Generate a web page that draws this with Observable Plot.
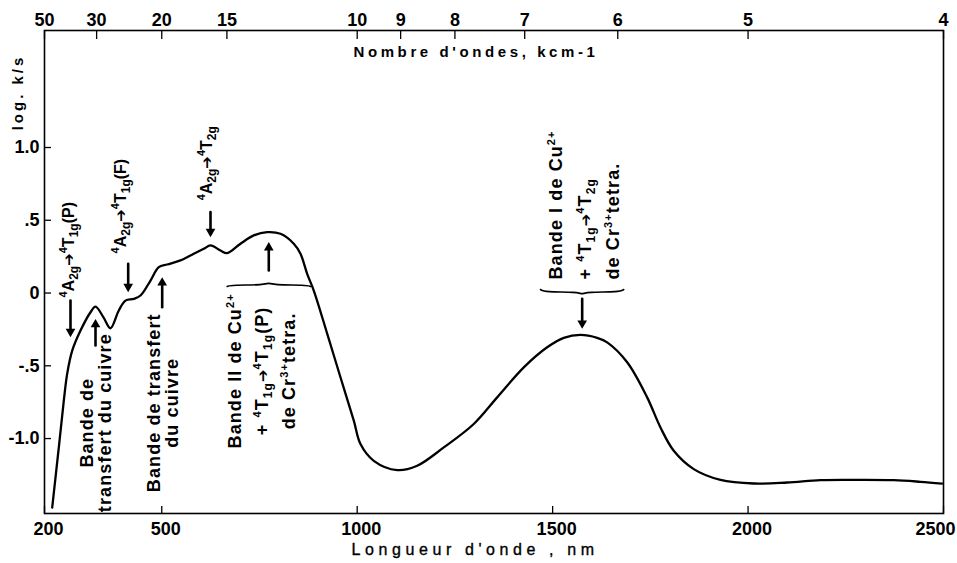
<!DOCTYPE html>
<html><head><meta charset="utf-8">
<script src="https://cdn.jsdelivr.net/npm/d3@7"></script>
<script src="https://cdn.jsdelivr.net/npm/@observablehq/plot@0.6"></script>
<style>html,body{margin:0;padding:0;background:#fff;}</style>
</head><body><div id="chart"></div>
<script>
// Spectrum: wavelength (nm) vs log(k/s)
const wavelength = [219.7, 236.6, 249.4, 258.1, 270.9, 292.1, 317.7, 330.5, 350.9, 368.8, 390.1, 407.2, 428.4, 445.6, 471.2, 492.4, 513.9, 547.9, 581.9, 607.5, 624.7, 650.2, 667.4, 701.4, 735.4, 769.7, 803.7, 837.8, 854.9, 872.0, 888.9, 923.2, 957.2, 991.3, 1008.4, 1042.4, 1102.3, 1153.4, 1221.5, 1298.2, 1358.1, 1426.2, 1486.0, 1528.5, 1571.2, 1613.9, 1639.5, 1690.7, 1741.8, 1775.9, 1809.9, 1861.0, 1929.3, 2014.5, 2100.0, 2185.2, 2270.3, 2372.7, 2441.0, 2496.5];
const logKS = [-1.474, -1.061, -0.740, -0.554, -0.396, -0.258, -0.132, -0.093, -0.167, -0.242, -0.120, -0.052, -0.040, -0.017, 0.086, 0.178, 0.196, 0.224, 0.270, 0.304, 0.327, 0.292, 0.274, 0.339, 0.396, 0.418, 0.407, 0.339, 0.270, 0.132, 0.017, -0.279, -0.579, -0.877, -1.038, -1.153, -1.217, -1.187, -1.061, -0.900, -0.717, -0.511, -0.373, -0.308, -0.288, -0.308, -0.339, -0.476, -0.717, -0.924, -1.084, -1.210, -1.284, -1.309, -1.302, -1.286, -1.284, -1.286, -1.297, -1.309];

// Axes
const xTicks = [200, 500, 1000, 1500, 2000, 2500];
const wavenumbers = [50, 30, 20, 15, 10, 9, 8, 7, 6, 5, 4]; // kcm-1
const yTicks = [1, 0.5, 0, -0.5, -1];
const yTickLabels = ["1.0", ".5", "0", "-.5", "-1.0"];
const xTitle = "Longueur d'onde , nm";
const topTitle = "Nombre d'ondes, kcm-1";
const yTitle = "log. k/s";

// Annotation arrows (x in nm, tail and tip in log k/s)
const arrowX    = [266.5, 330.5, 414.1, 501.1, 624.7, 773.8, 1575.6];
const arrowTail = [-0.052, -0.361, 0.201, -0.098, 0.556, 0.155, -0.040];
const arrowTip  = [-0.304, -0.178, 0.006, 0.109, 0.384, 0.350, -0.246];

// Transition labels anchored at their lower end
const transLabels = ["^{4}A_{2g}➔^{4}T_{1g}(P)", "^{4}A_{2g}➔^{4}T_{1g}(F)", "^{4}A_{2g}➔^{4}T_{2g}"];
const transX = [261.4, 394.4, 614.4];
const transY = [-0.031, 0.272, 0.637];
const bandILabel = "Bande I de Cu^{2+}\n+ ^{4}T_{1g}➔^{4}T_{2g}\nde Cr^{3+}tetra.";
const bandIX = 1573.5, bandIY = 0.093;
// Band labels centred
const midLabels = ["Bande de\ntransfert du cuivre", "Bande de transfert\ndu cuivre", "Bande II de Cu^{2+}\n+ ^{4}T_{1g}➔^{4}T_{1g}(P)\nde Cr^{3+}tetra."];
const midX = [333, 504.4, 749];
const midY = [-0.891, -0.754, -0.535];

// Braces
const braceIIx = [667.4, 678.4, 762.8, 773.8, 784.5, 870.2, 880.5];
const braceIIy = [0.045, 0.055, 0.055, 0.072, 0.055, 0.055, 0.045];
const braceIx  = [1468.9, 1479.1, 1563.5, 1575.6, 1586.6, 1671.0, 1682.0];
const braceIy  = [0.024, 0.007, 0.007, -0.010, 0.007, 0.007, 0.024];

const curve = wavelength.map((x, i) => ({x, y: logKS[i]}));
const arrows = arrowX.map((x, i) => ({x, y1: arrowTail[i], y2: arrowTip[i]}));
const trans = transLabels.map((t, i) => ({t, x: transX[i], y: transY[i]}));
const mids = midLabels.map((t, i) => ({t, x: midX[i], y: midY[i]}));
const braceII = braceIIx.map((x, i) => ({x, y: braceIIy[i]}));
const braceI = braceIx.map((x, i) => ({x, y: braceIy[i]}));

const FONT = "'Liberation Sans', Arial, Helvetica, sans-serif";
const W = 957, H = 563, ML = 44, MR = 14, MT = 30, MB = 50;
const FW = W - ML - MR, FH = H - MT - MB;

const textOpts = (lh, anchor, size) => ({x: "x", y: "y", text: "t", rotate: -90, textAnchor: anchor, lineAnchor: "middle",
  fontSize: size, fontWeight: "bold", fill: "black", lineHeight: lh});

const up = arrows.filter(d => d.y2 > d.y1), down = arrows.filter(d => d.y2 < d.y1);

const marks = [
  Plot.frame({stroke: "black", strokeWidth: 1.6}),
  // inward ticks
  Plot.ruleX(xTicks, {x: d => d, insetTop: FH - 7, stroke: "black", strokeWidth: 1.3}),
  Plot.ruleX(wavenumbers.map(k => 10000 / k), {x: d => d, insetBottom: FH - 9, stroke: "black", strokeWidth: 1.3}),
  Plot.ruleY(yTicks, {y: d => d, insetRight: FW - 7, stroke: "black", strokeWidth: 1.3}),
  Plot.axisX({anchor: "bottom", ticks: xTicks, tickSize: 0, tickPadding: 9, dx: 4, tickFormat: d => String(d),
    fontSize: 18, fontWeight: "bold", label: null}),
  Plot.axisX({anchor: "top", ticks: wavenumbers.map(k => 10000 / k), tickSize: 0, tickPadding: 5,
    tickFormat: d => String(Math.round(10000 / d)), fontSize: 18, fontWeight: "bold", label: null}),
  Plot.axisY({anchor: "left", ticks: yTicks, tickSize: 0, tickPadding: 5,
    tickFormat: d => yTickLabels[yTicks.indexOf(d)], fontSize: 18, fontWeight: "bold", label: null}),
  Plot.line(curve, {x: "x", y: "y", curve: "catmull-rom", stroke: "black", strokeWidth: 2.3}),
  Plot.arrow(arrows, {x: "x", y1: "y1", y2: "y2", stroke: "black", strokeWidth: 2.6, headLength: 0, insetEnd: 6}),
  Plot.dot(up, {x: "x", y: "y2", symbol: "triangle", r: 3.6, fill: "black", stroke: "none", dy: 5.6}),
  Plot.dot(down, {x: "x", y: "y2", symbol: "triangle", r: 3.6, fill: "black", stroke: "none", rotate: 180, dy: -5.6}),
  Plot.line(braceII, {x: "x", y: "y", curve: "basis", stroke: "black", strokeWidth: 1.6}),
  Plot.line(braceI, {x: "x", y: "y", curve: "basis", stroke: "black", strokeWidth: 1.6}),
  Plot.text(trans, textOpts(1, "start", 16)),
  Plot.text([{t: bandILabel, x: bandIX, y: bandIY}], textOpts(1.6, "start", 18)),
  Plot.text(mids.slice(0, 1), textOpts(1.0, "middle", 18)),
  Plot.text(mids.slice(1, 2), textOpts(0.95, "middle", 18)),
  Plot.text(mids.slice(2), textOpts(1.5, "middle", 18)),
  Plot.text([topTitle], {frameAnchor: "top", dx: -18, dy: 22, text: d => d, textAnchor: "middle", lineAnchor: "middle", fontSize: 15, fontWeight: "bold", fill: "black"}),
  Plot.text([xTitle], {frameAnchor: "bottom", dx: -19, dy: 36, text: d => d, textAnchor: "middle", lineAnchor: "middle", fontSize: 16, fill: "black", stroke: "black", strokeWidth: 0.35}),
  Plot.text([yTitle], {frameAnchor: "top-left", dx: -26, dy: 62, rotate: -90, text: d => d, textAnchor: "middle", lineAnchor: "middle", fontSize: 15, fontWeight: "bold", fill: "black"})
];

const chart = Plot.plot({
  width: W, height: H,
  marginLeft: ML, marginRight: MR, marginTop: MT, marginBottom: MB,
  x: {domain: [200, 2500]},
  y: {domain: [-1.515, 1.804]},
  style: {fontFamily: FONT, background: "white", color: "black", overflow: "visible"},
  marks
});
document.getElementById("chart").appendChild(chart);

// letter spacing for titles; nudge corner label
chart.querySelectorAll("text").forEach(el => {
  const s = el.textContent;
  if (s === topTitle) el.setAttribute("letter-spacing", "3.6");
  if (s === xTitle) el.setAttribute("letter-spacing", "4.6");
  if (s === yTitle) el.setAttribute("letter-spacing", "3");
  if (s === "2500") el.setAttribute("dx", "-12");
  if (s.startsWith("Bande")) el.setAttribute("letter-spacing", "1.1");
});

// rich text: ^{...} superscript, _{...} subscript
const NS = "http://www.w3.org/2000/svg";
chart.querySelectorAll("text, tspan").forEach(el => {
  if (el.children.length) return;
  const s = el.textContent;
  if (!/[\^_]\{/.test(s) && !s.includes("➔")) return;
  el.textContent = "";
  s.split(/(\^\{[^}]*\}|_\{[^}]*\}|➔)/).forEach(part => {
    if (!part) return;
    const t = document.createElementNS(NS, "tspan");
    if (part.startsWith("^{")) {
      t.textContent = part.slice(2, -1);
      t.setAttribute("font-size", "11");
      t.setAttribute("baseline-shift", "7");
    } else if (part.startsWith("_{")) {
      t.textContent = part.slice(2, -1);
      t.setAttribute("font-size", "12");
      t.setAttribute("baseline-shift", "-4");
    } else if (part === "➔") {
      t.textContent = part;
      t.setAttribute("font-family", "'DejaVu Sans'");
      t.setAttribute("font-size", "15");
      t.setAttribute("letter-spacing", "0");
    } else {
      t.textContent = part;
    }
    el.appendChild(t);
  });
});
</script>
</body></html>
